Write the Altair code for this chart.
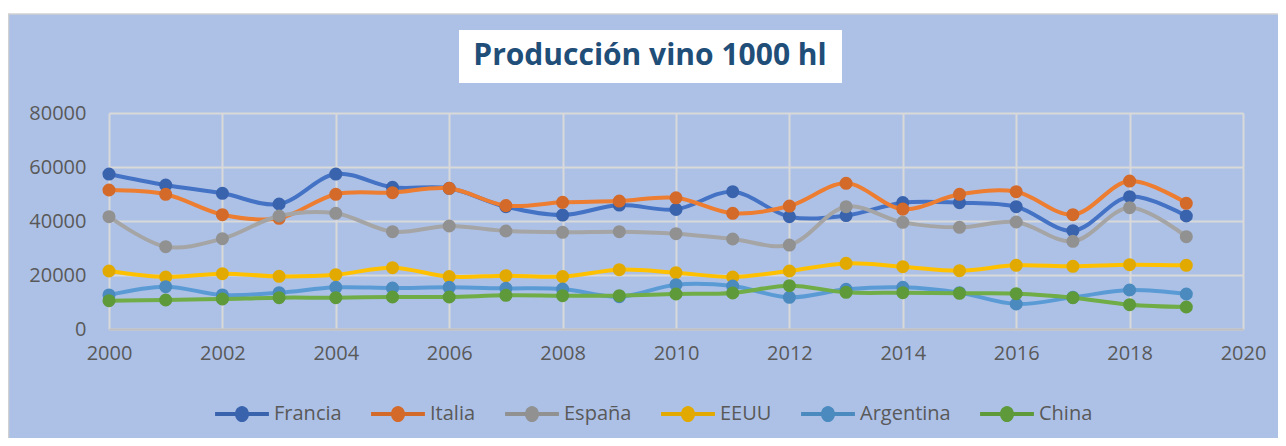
import altair as alt
import pandas as pd

years = list(range(2000, 2020))
series_names = ["Francia", "Italia", "España", "EEUU", "Argentina", "China"]

francia = [57400, 53300, 50250, 46300, 57400, 52470, 52100, 45300, 42200, 45900,
           44300, 50860, 41600, 42000, 46800, 46800, 45300, 36400, 49000, 41850]
italia = [51480, 49900, 42340, 41000, 49900, 50500, 52100, 45700, 46900, 47400,
          48600, 42850, 45550, 53950, 44400, 49900, 50860, 42340, 54800, 46550]
espana = [41600, 30500, 33450, 41850, 42850, 36050, 38150, 36300, 35800, 36050,
          35300, 33330, 31100, 45300, 39500, 37650, 39630, 32470, 44940, 34200]
eeuu = [21480, 19260, 20500, 19500, 20100, 22700, 19400, 19760, 19400, 21980,
        20870, 19260, 21480, 24300, 23080, 21600, 23580, 23210, 23830, 23580]
argentina = [12600, 15680, 12600, 13450, 15430, 15190, 15430, 15060, 14800, 11970,
             16420, 15930, 11730, 14690, 15430, 13450, 9260, 11730, 14440, 12960]
china = [10500, 10740, 11110, 11600, 11600, 11850, 11850, 12470, 12350, 12350,
         12960, 13330, 16050, 13580, 13450, 13210, 13080, 11600, 9000, 8150]

line_colors = ["#4472C4", "#ED7D31", "#A5A5A5", "#FFC000", "#5B9BD5", "#70AD47"]
marker_colors = ["#3A63AD", "#D46A2A", "#919191", "#E2AA00", "#4A8ABF", "#5F9A3A"]

title_text = "Producción vino 1000 hl"
x_ticks = list(range(2000, 2021, 2))
y_ticks = [0, 20000, 40000, 60000, 80000]

values = [francia, italia, espana, eeuu, argentina, china]
rows = []
for name, vals in zip(series_names, values):
    for yr, v in zip(years, vals):
        rows.append({"year": yr, "value": v, "series": name})
df = pd.DataFrame(rows)

W, H = 1134, 216
BG = "#ADC1E7"
FONT = "Open Sans"

x_enc = alt.X("year:Q", scale=alt.Scale(domain=[2000, 2020], nice=False, zero=False),
              axis=alt.Axis(values=x_ticks, format="d", title=None, grid=True,
                            ticks=False, labelPadding=14, domain=True,
                            labelFlush=False, labelOverlap=False,
                            domainColor="#BFBFBF", domainWidth=2))
y_enc = alt.Y("value:Q", scale=alt.Scale(domain=[0, 80000], nice=False),
              axis=alt.Axis(values=y_ticks, format="d", title=None, grid=True,
                            ticks=False, domain=False, labelPadding=23,
                            labelFlush=False, labelOverlap=False))

base = alt.Chart(df)
path = ("M-1,-0.075L1,-0.075L1,0.075L-1,0.075Z "
        "M0.26,0A0.26,0.3,0,1,1,-0.26,0A0.26,0.3,0,1,1,0.26,0Z")

layers = []
for name, lc in zip(series_names, line_colors):
    sub = base.transform_filter(alt.datum.series == name)
    layers.append(sub.mark_line(interpolate="catmull-rom", strokeWidth=4).encode(
        x=x_enc, y=y_enc, stroke=alt.value(lc)))
    layers.append(sub.mark_point(filled=True, size=170, opacity=1).encode(
        x=x_enc, y=y_enc,
        color=alt.Color("series:N",
                        scale=alt.Scale(domain=series_names, range=marker_colors),
                        legend=alt.Legend(title=None, orient="none", direction="horizontal",
                                          legendX=106, legendY=274, symbolType=path,
                                          symbolSize=2900, symbolStrokeWidth=0,
                                          labelFont=FONT, labelFontSize=20,
                                          labelColor="#595959", labelOffset=5,
                                          columnPadding=29, padding=0,
                                          symbolOpacity=1))))

# decorations: white strip above the chart box, border, title box
deco_df = pd.DataFrame({"k": [0]})
deco = alt.Chart(deco_df)
strip = deco.mark_rect(color="white").encode(
    x=alt.value(-101), x2=alt.value(1169), y=alt.value(-105), y2=alt.value(-99))
border = deco.mark_rule(color="#D0D0D0", strokeWidth=1.5).encode(
    x=alt.value(-101), x2=alt.value(1169), y=alt.value(-99))
border_l = deco.mark_rule(color="#D0D0D0", strokeWidth=1.5).encode(
    x=alt.value(-100.5), y=alt.value(-99), y2=alt.value(325))
title_box = deco.mark_rect(color="white").encode(
    x=alt.value(350), x2=alt.value(733), y=alt.value(-83), y2=alt.value(-30))
title = deco.mark_text(text=title_text, font=FONT, fontSize=30, fontWeight="bold",
                       color="#1F4E79", align="center", baseline="middle").encode(
    x=alt.value(541), y=alt.value(-57))

chart = alt.layer(strip, border, border_l, title_box, title, *layers).properties(
    width=W, height=H,
    background=BG,
    padding={"left": 101, "top": 105, "right": 35, "bottom": 109},
    autosize=alt.AutoSizeParams(type="none"),
).configure_view(stroke=None).configure_axis(
    labelFont=FONT, labelFontSize=20, labelColor="#595959",
    gridColor="#D9D9D9", gridWidth=2,
)

chart.save("out.html", embed_options={"renderer": "svg", "actions": False})
